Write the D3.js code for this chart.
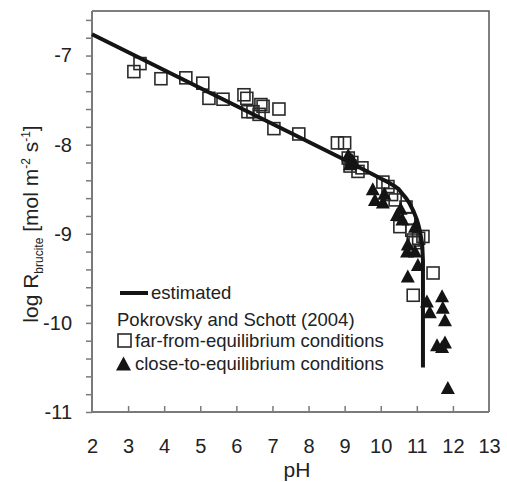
<!DOCTYPE html>
<html>
<head>
<meta charset="utf-8">
<script src="https://cdn.jsdelivr.net/npm/d3@7"></script>
<style>
  html, body { margin: 0; padding: 0; background: #fff; }
  svg { display: block; font-family: "Liberation Sans", Arial, sans-serif; }
</style>
</head>
<body>
<svg id="chart" width="507" height="482"></svg>
<script>
// Estimated dissolution rate of brucite vs pH
const estPH   = [2, 9, 10, 10.2, 10.4, 10.5, 10.6, 10.7, 10.8, 10.9, 11.0, 11.05, 11.1, 11.15, 11.17, 11.17];
const estLogR = [-6.76, -8.17, -8.38, -8.42, -8.47, -8.5, -8.55, -8.6, -8.66, -8.74, -8.84, -8.91, -9.0, -9.12, -9.3, -10.5];

// Pokrovsky and Schott (2004): far-from-equilibrium conditions
const farPH   = [3.16, 3.33, 3.91, 4.6, 5.07, 5.24, 5.63, 6.21, 6.29, 6.32, 6.46, 6.68, 6.74, 6.63, 7.18, 7.04, 7.73, 8.8, 9.0,
                 9.1, 9.2, 9.15, 9.37, 9.48, 10.06, 10.2, 10.3, 10.4, 10.53, 10.7, 10.78, 10.86, 10.9, 11.17, 11.05, 10.95, 11.45, 10.9];
const farLogR = [-7.18, -7.09, -7.26, -7.25, -7.31, -7.48, -7.49, -7.44, -7.48, -7.63, -7.63, -7.55, -7.57, -7.66, -7.6, -7.82, -7.88, -7.98, -7.98,
                 -8.15, -8.2, -8.24, -8.3, -8.26, -8.42, -8.47, -8.56, -8.62, -8.92, -8.7, -8.83, -8.96, -9.07, -9.03, -9.05, -9.1, -9.44, -9.69];

// Pokrovsky and Schott (2004): close-to-equilibrium conditions
const closePH   = [9.1, 9.2, 9.15, 9.25, 9.78, 9.84, 10.06, 10.1, 10.45, 10.6, 10.55, 10.95, 10.75, 10.73, 10.95, 11.03, 10.75,
                   11.28, 11.7, 11.36, 11.72, 11.78, 11.56, 11.78, 11.7, 11.86];
const closeLogR = [-8.12, -8.17, -8.22, -8.2, -8.5, -8.62, -8.65, -8.55, -8.79, -8.84, -8.72, -8.92, -9.12, -9.2, -9.2, -9.35, -9.48,
                   -9.76, -9.7, -9.88, -9.83, -9.97, -10.25, -10.22, -10.27, -10.73];

const xTicks = [2, 3, 4, 5, 6, 7, 8, 9, 10, 11, 12, 13];

const svg = d3.select("#chart");
const plotL = 92, plotR = 489, plotT = 11, plotB = 412;

const x = d3.scaleLinear().domain([2, 13]).range([plotL, plotR]);
const y = d3.scaleLinear().domain([-11, -6.5]).range([plotB, plotT]);

const axisColor = "#7a7a7a";

// frame: top and right edges
svg.append("path")
  .attr("d", `M${plotL},${plotT}H${plotR}V${plotB}`)
  .attr("fill", "none").attr("stroke", "#555").attr("stroke-width", 1.5);

// y axis with minor ticks every 0.2
const yMinor = d3.range(0, 23).map(i => -11 + i * 0.2).filter(v => v <= -6.55);
const yAxis = svg.append("g").attr("transform", `translate(${plotL},0)`)
  .call(d3.axisLeft(y).tickValues(yMinor).tickSize(6).tickPadding(14)
    .tickFormat(v => Math.abs(v - Math.round(v)) < 1e-6 ? String(Math.round(v)) : ""));
yAxis.selectAll("line").attr("stroke", axisColor).attr("stroke-width", 1.5);
yAxis.select(".domain").remove();
yAxis.selectAll("text").attr("font-size", 20).attr("fill", "#222")
  .attr("font-family", "'Liberation Sans', Arial, sans-serif");

// x axis with ticks pointing inward
const xAxis = svg.append("g").attr("transform", `translate(0,${plotB})`)
  .call(d3.axisBottom(x).tickValues(xTicks).tickSizeInner(-6).tickSizeOuter(0).tickPadding(27)
    .tickFormat(d => String(d)));
xAxis.selectAll(".tick line").attr("stroke", axisColor).attr("stroke-width", 1.5)
  .attr("display", d => (d === 2 || d === 13) ? "none" : null);
xAxis.select(".domain").remove();
xAxis.selectAll("text").attr("font-size", 20).attr("fill", "#222")
  .attr("font-family", "'Liberation Sans', Arial, sans-serif");

// left and bottom axis lines
svg.append("path")
  .attr("d", `M${plotL},${plotT}V${plotB}H${plotR}`)
  .attr("fill", "none").attr("stroke", axisColor).attr("stroke-width", 2);

// axis titles
svg.append("text").attr("x", 297).attr("y", 477).attr("text-anchor", "middle")
  .attr("font-size", 21).attr("fill", "#222").text("pH");

const yt = svg.append("text")
  .attr("transform", "translate(38,224) rotate(-90)")
  .attr("text-anchor", "middle").attr("font-size", 21).attr("fill", "#222");
yt.append("tspan").text("log R");
yt.append("tspan").attr("font-size", 12).attr("dy", 5).text("brucite");
yt.append("tspan").attr("dy", -5).text(" [mol m");
yt.append("tspan").attr("font-size", 12).attr("dy", -8).text("-2");
yt.append("tspan").attr("dy", 8).text(" s");
yt.append("tspan").attr("font-size", 12).attr("dy", -8).text("-1");
yt.append("tspan").attr("dy", 8).text("]");

// markers
const sq = 12;
const triPath = (cx, cy, w, h) => `M${cx},${cy - h / 2 - 1}L${cx + w / 2},${cy + h / 2}L${cx - w / 2},${cy + h / 2}Z`;

const farData = farPH.map((p, i) => ({ p, r: farLogR[i] }));
const closeData = closePH.map((p, i) => ({ p, r: closeLogR[i] }));

svg.append("g").selectAll("rect").data(farData).join("rect")
  .attr("x", d => x(d.p) - sq / 2).attr("y", d => y(d.r) - sq / 2)
  .attr("width", sq).attr("height", sq)
  .attr("fill", "none").attr("stroke", "#2a2a2a").attr("stroke-width", 1.6);

svg.append("g").selectAll("path").data(closeData).join("path")
  .attr("d", d => triPath(x(d.p), y(d.r), 14, 12))
  .attr("fill", "#141414");

// estimated curve
const line = d3.line().x((d, i) => x(estPH[i])).y(d => y(d)).curve(d3.curveLinear);
svg.append("path").attr("d", line(estLogR))
  .attr("fill", "none").attr("stroke", "#141414").attr("stroke-width", 4)
  .attr("stroke-linejoin", "round");

// legend
const lg = svg.append("g").attr("font-size", 18.5).attr("fill", "#222");
lg.append("line").attr("x1", 120).attr("x2", 148).attr("y1", 293).attr("y2", 293)
  .attr("stroke", "#141414").attr("stroke-width", 4);
lg.append("text").attr("x", 151).attr("y", 299).text("estimated");
lg.append("text").attr("x", 117).attr("y", 326).text("Pokrovsky and Schott (2004)");
lg.append("rect").attr("x", 118).attr("y", 334).attr("width", 13).attr("height", 13)
  .attr("fill", "none").attr("stroke", "#2a2a2a").attr("stroke-width", 1.6);
lg.append("text").attr("x", 135).attr("y", 347).text("far-from-equilibrium conditions");
lg.append("path").attr("d", triPath(123.5, 364, 15, 13)).attr("fill", "#141414");
lg.append("text").attr("x", 135).attr("y", 370).text("close-to-equilibrium conditions");
</script>
</body>
</html>
